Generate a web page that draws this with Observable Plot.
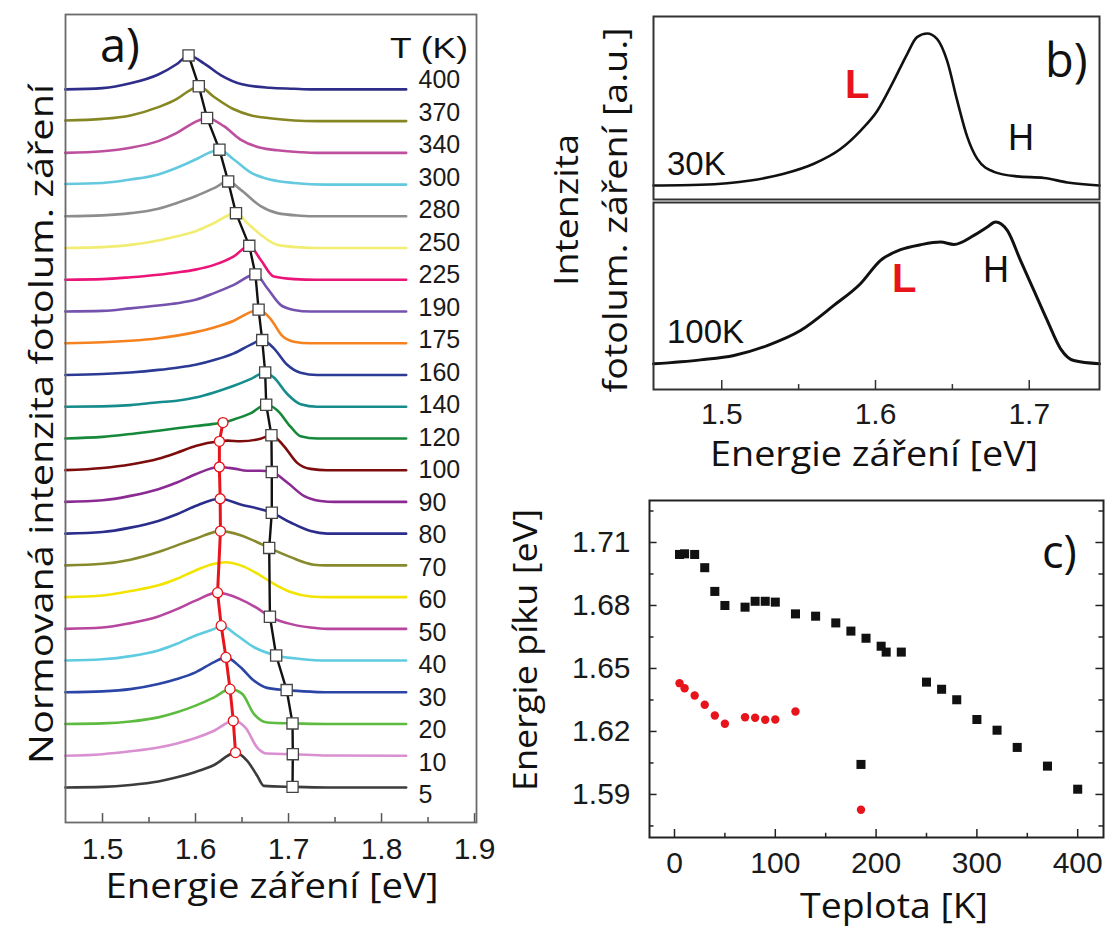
<!DOCTYPE html>
<html><head><meta charset="utf-8">
<script src="https://cdn.jsdelivr.net/npm/d3@7"></script>
<script src="https://cdn.jsdelivr.net/npm/@observablehq/plot@0.6"></script>
<style>
html,body{margin:0;padding:0;background:#fff;}
#root{position:relative;width:1108px;height:928px;overflow:hidden;background:#fff;}
</style></head><body><div id="root"></div>
<script>
// ---------- Panel a: PL spectra (energy [eV], normalised intensity) ----------
const temps = [5,10,20,30,40,50,60,70,80,90,100,120,140,160,175,190,225,250,280,300,340,370,400];
const curveColors = ["#3c3c3c","#d98fd0","#5dbb3f","#2a45a5","#5fcbe0","#b8459e","#f2e400","#878a2c","#2b2d8c","#8a2a92","#7d0c0c","#15883a","#178c8c","#2b3a94","#f5821f","#7452ad","#ec1379","#f0ed72","#8d8d8d","#62c9de","#bd4f9e","#868623","#2e2d8a"];
const s5   = [[1.46,0],[1.50,0.02],[1.53,0.08],[1.56,0.19],[1.58,0.32],[1.60,0.49],[1.62,0.71],[1.643,1.1],[1.6556,0.84],[1.6663,0.37],[1.6735,0.05],[1.7043,0.02],[1.7416,0],[1.8265,0]];
const s10  = [[1.46,0],[1.50,0.05],[1.53,0.14],[1.56,0.26],[1.58,0.39],[1.60,0.56],[1.62,0.79],[1.6406,1.1],[1.6537,0.89],[1.6663,0.26],[1.677,0.07],[1.7046,0.05],[1.7416,0.01],[1.8265,0]];
const s20  = [[1.46,0],[1.50,0.02],[1.53,0.08],[1.56,0.21],[1.58,0.37],[1.60,0.58],[1.62,0.84],[1.6371,1.1],[1.6502,0.95],[1.6627,0.32],[1.677,0.05],[1.7043,0.02],[1.7416,0],[1.8265,0]];
const s30  = [[1.46,0],[1.50,0.03],[1.53,0.1],[1.56,0.26],[1.58,0.42],[1.60,0.63],[1.62,0.95],[1.6327,1.1],[1.6484,0.79],[1.6627,0.37],[1.677,0.14],[1.698,0.07],[1.7237,0.02],[1.7416,0],[1.8265,0]];
const s40  = [[1.46,0],[1.50,0.04],[1.53,0.14],[1.56,0.32],[1.58,0.53],[1.60,0.79],[1.62,1.0],[1.6276,1.1],[1.6448,0.79],[1.663,0.42],[1.6867,0.16],[1.713,0.05],[1.7416,0],[1.8265,0]];
const s50  = [[1.46,0],[1.50,0.04],[1.53,0.18],[1.56,0.39],[1.58,0.62],[1.60,0.89],[1.6237,1.14],[1.6484,0.93],[1.6663,0.65],[1.680,0.38],[1.6986,0.18],[1.7237,0.04],[1.7416,0],[1.8265,0]];
const s60  = [[1.46,0],[1.50,0.05],[1.53,0.19],[1.56,0.37],[1.58,0.58],[1.60,0.84],[1.62,1.05],[1.6323,1.1],[1.6484,1.0],[1.6699,0.68],[1.6842,0.42],[1.7022,0.16],[1.7237,0.02],[1.7416,0],[1.8265,0]];
const s70  = [[1.46,0],[1.50,0.05],[1.53,0.18],[1.56,0.42],[1.58,0.63],[1.60,0.84],[1.6268,1.08],[1.6484,0.95],[1.6699,0.68],[1.6792,0.55],[1.7022,0.26],[1.7272,0.02],[1.74,0],[1.8265,0]];
const s80  = [[1.46,0],[1.50,0.05],[1.53,0.19],[1.56,0.4],[1.58,0.61],[1.60,0.87],[1.6265,1.1],[1.6484,0.92],[1.6699,0.77],[1.682,0.66],[1.7022,0.35],[1.7237,0.08],[1.7416,0],[1.8265,0]];
const s90  = [[1.46,0],[1.50,0.05],[1.53,0.19],[1.56,0.4],[1.58,0.61],[1.60,0.87],[1.6256,1.1],[1.6412,1.05],[1.6556,0.98],[1.6699,0.98],[1.682,0.94],[1.6986,0.61],[1.7165,0.19],[1.7344,0.03],[1.75,0],[1.8265,0]];
const s100 = [[1.46,0],[1.50,0.07],[1.53,0.18],[1.56,0.36],[1.58,0.55],[1.60,0.76],[1.6257,0.91],[1.6341,0.93],[1.6484,0.91],[1.6699,0.99],[1.6816,1.10],[1.695,0.76],[1.7093,0.23],[1.7237,0.04],[1.7416,0],[1.8265,0]];
const s120 = [[1.46,0],[1.50,0.05],[1.53,0.14],[1.56,0.24],[1.58,0.32],[1.60,0.39],[1.62,0.46],[1.6295,0.5],[1.6412,0.6],[1.659,0.79],[1.676,1.06],[1.6878,0.89],[1.7022,0.37],[1.7129,0.07],[1.7308,0],[1.8265,0]];
const s140 = [[1.46,0],[1.50,0.01],[1.53,0.05],[1.56,0.14],[1.58,0.19],[1.60,0.29],[1.62,0.45],[1.6412,0.66],[1.659,0.87],[1.6749,1.08],[1.6842,0.92],[1.6986,0.4],[1.7129,0.08],[1.7308,0],[1.8265,0]];
const s160 = [[1.46,0],[1.50,0.03],[1.53,0.08],[1.56,0.16],[1.58,0.23],[1.60,0.32],[1.62,0.47],[1.6412,0.68],[1.659,0.95],[1.6717,1.10],[1.6842,0.84],[1.6986,0.32],[1.7129,0.07],[1.7308,0],[1.8265,0]];
const s175 = [[1.46,0],[1.50,0.03],[1.53,0.08],[1.56,0.16],[1.58,0.24],[1.60,0.35],[1.62,0.5],[1.6412,0.71],[1.659,0.98],[1.6678,1.06],[1.6806,0.77],[1.693,0.24],[1.7057,0.05],[1.7237,0],[1.8265,0]];
const s190 = [[1.46,0],[1.50,0.02],[1.53,0.1],[1.56,0.19],[1.58,0.26],[1.60,0.37],[1.62,0.58],[1.6412,0.84],[1.6644,1.17],[1.677,0.74],[1.6914,0.21],[1.7057,0.05],[1.7237,0],[1.8265,0]];
const s225 = [[1.46,0],[1.50,0.02],[1.53,0.08],[1.56,0.16],[1.58,0.23],[1.60,0.32],[1.62,0.47],[1.6412,0.74],[1.6578,1.07],[1.67,0.63],[1.6842,0.1],[1.706,0.02],[1.73,0],[1.8265,0]];
const s250 = [[1.46,0],[1.50,0.03],[1.53,0.1],[1.56,0.24],[1.58,0.37],[1.60,0.53],[1.62,0.79],[1.6435,1.10],[1.6556,0.79],[1.67,0.42],[1.688,0.1],[1.713,0.02],[1.73,0],[1.8265,0]];
const s280 = [[1.46,0],[1.50,0.03],[1.53,0.1],[1.56,0.24],[1.58,0.42],[1.60,0.63],[1.62,0.89],[1.6351,1.10],[1.6484,0.84],[1.67,0.32],[1.688,0.1],[1.713,0.02],[1.73,0],[1.8265,0]];
const s300 = [[1.46,0.02],[1.50,0.05],[1.53,0.16],[1.56,0.32],[1.58,0.53],[1.60,0.79],[1.6143,1.0],[1.6257,1.10],[1.6412,0.79],[1.66,0.37],[1.68,0.16],[1.706,0.05],[1.74,0],[1.8265,0]];
const s340 = [[1.46,0],[1.50,0.05],[1.53,0.16],[1.56,0.37],[1.58,0.63],[1.5982,0.95],[1.6124,1.10],[1.6305,0.84],[1.6484,0.42],[1.67,0.16],[1.688,0.08],[1.713,0.02],[1.73,0],[1.8265,0]];
const s370 = [[1.46,0.02],[1.50,0.07],[1.53,0.18],[1.56,0.44],[1.58,0.7],[1.5928,0.95],[1.6035,1.1],[1.62,0.76],[1.64,0.39],[1.66,0.18],[1.68,0.09],[1.706,0.02],[1.73,0],[1.8265,0]];
const s400 = [[1.46,0],[1.50,0.04],[1.53,0.19],[1.56,0.47],[1.58,0.8],[1.5925,1.07],[1.609,0.82],[1.627,0.45],[1.65,0.16],[1.68,0.05],[1.706,0.02],[1.724,0],[1.8265,0]];
const spectraA = [s5,s10,s20,s30,s40,s50,s60,s70,s80,s90,s100,s120,s140,s160,s175,s190,s225,s250,s280,s300,s340,s370,s400];

// marker heights on the spectra of panel a (same peak energies as panel c)
const aHT = [5,10,20,30,40,50,70,80,90,100,120,140,160,175,190,225,250,280,300,340,370,400];
const aHh = [0.02,0.05,0.02,0.07,0.16,0.38,0.55,0.66,0.94,1.10,1.06,1.08,1.10,1.06,1.17,1.07,1.10,1.10,1.10,1.10,1.10,1.07];
const aLT = [5,10,20,30,40,50,70,80,90,100,120];
const aLh = [1.1,1.1,1.1,1.1,1.1,1.14,1.08,1.1,1.1,0.91,0.5];
const ticksA = [1.5,1.6,1.7,1.8,1.9];
const minorA = [1.55,1.65,1.75,1.85];

// ---------- Panel b: spectra at 30 K and 100 K ----------
const b30  = [[1.4556,0],[1.4863,0.005],[1.5187,0.033],[1.5404,0.077],[1.5599,0.143],[1.5772,0.24],[1.5902,0.36],[1.6011,0.49],[1.6119,0.69],[1.6206,0.865],[1.627,0.976],[1.6336,1.0],[1.64,0.965],[1.6466,0.82],[1.6531,0.56],[1.6597,0.32],[1.6662,0.175],[1.677,0.09],[1.6922,0.06],[1.7096,0.05],[1.7248,0.02],[1.7457,0]];
const b100 = [[1.4556,0],[1.4863,0.028],[1.5079,0.059],[1.5296,0.129],[1.5512,0.235],[1.5729,0.412],[1.5902,0.565],[1.6033,0.73],[1.6163,0.805],[1.6293,0.84],[1.6423,0.859],[1.651,0.842],[1.664,0.906],[1.6727,0.965],[1.6781,1.0],[1.6857,0.941],[1.6943,0.73],[1.703,0.518],[1.7117,0.306],[1.7204,0.106],[1.729,0.023],[1.7457,0]];
const ticksB = [1.5,1.6,1.7];
const minorB = [1.55,1.65];

// ---------- Panel c: peak energy vs temperature ----------
const cHT = [5,10,20,30,40,50,70,80,90,100,120,140,160,175,190,205,210,225,250,265,280,300,320,340,370,400,185];
const cHE = [1.7043,1.7046,1.7043,1.698,1.6867,1.680,1.6792,1.682,1.682,1.6816,1.676,1.6749,1.6717,1.6678,1.6644,1.6606,1.6578,1.6578,1.6435,1.6401,1.6351,1.6257,1.6206,1.6124,1.6035,1.5925,1.6043];
const cLT = [5,10,20,30,40,50,70,80,90,100,120,185];
const cLE = [1.643,1.6406,1.6371,1.6327,1.6276,1.6237,1.6268,1.6265,1.6256,1.6257,1.6295,1.5827];
const ticksCx = [0,100,200,300,400];
const minorCx = [50,150,250,350];
const ticksCy = [1.59,1.62,1.65,1.68,1.71];
const minorCy = [1.575,1.605,1.635,1.665,1.695,1.725];

const RED = "#e8141c";
const TICKFONT = "'Liberation Sans', Arial, sans-serif";
const TITLEFONT = "'Open Sans', 'Noto Sans', sans-serif";
const root = document.getElementById("root");
function place(el, left, top) {
  el.style.position = "absolute"; el.style.left = left + "px"; el.style.top = top + "px";
  root.appendChild(el);
}
const baseStyle = {background: "transparent", overflow: "visible", fontFamily: TICKFONT, fontSize: "30px", color: "#1a1a1a"};

// ===== Panel a =====
const rowsA = spectraA.flatMap((s, i) => s.map(([E, h]) => ({T: temps[i], E, y: i + h, color: curveColors[i]})));
const idx = T => temps.indexOf(T);
const hMarkers = aHT.map((T, k) => ({T, E: cHE[cHT.indexOf(T)], y: idx(T) + aHh[k]}));
const lMarkers = aLT.map((T, k) => ({T, E: cLE[cLT.indexOf(T)], y: idx(T) + aLh[k]}));
const yA0 = -1.103, yA1 = 24.36;
const labelsA = temps.map((T, i) => ({T, y: -0.252 + 1.0243 * i}));

const plotA = Plot.plot({
  width: 500, height: 870,
  marginLeft: 65, marginRight: 24, marginTop: 14, marginBottom: 48,
  style: baseStyle,
  x: {domain: [1.4602, 1.9021], ticks: ticksA, tickSize: 0, tickPadding: 15, tickFormat: d3.format(".1f"), label: null},
  y: {domain: [yA0, yA1], axis: null},
  marks: [
    Plot.line(rowsA, {x: "E", y: "y", z: "T", stroke: "color", strokeWidth: 2.6, curve: "monotone-x"}),
    Plot.line(lMarkers, {x: "E", y: "y", stroke: RED, strokeWidth: 3}),
    Plot.line(hMarkers, {x: "E", y: "y", stroke: "#111", strokeWidth: 2.4}),
    Plot.dot(lMarkers, {x: "E", y: "y", r: 5, fill: "white", stroke: RED, strokeWidth: 1.3}),
    Plot.dot(hMarkers, {x: "E", y: "y", r: 6.3, symbol: "square", fill: "white", stroke: "#444", strokeWidth: 1.3}),
    Plot.text(labelsA, {x: () => 1.8398, y: "y", text: d => String(d.T), textAnchor: "start", fontSize: 25, fill: "#1a1a1a"}),
    Plot.ruleX(ticksA, {x: d => d, y1: () => yA0, y2: () => yA0 + 0.28, stroke: "#555", strokeWidth: 1.5}),
    Plot.ruleX(minorA, {x: d => d, y1: () => yA0, y2: () => yA0 + 0.16, stroke: "#555", strokeWidth: 1.5}),
    Plot.frame({stroke: "#6a6a6a", strokeWidth: 1.8})
  ]
});
place(plotA, 0, 0);

// ===== Panel b (upper: 30 K) =====
const plotB1 = Plot.plot({
  width: 508, height: 201,
  marginLeft: 53, marginRight: 9, marginTop: 16, marginBottom: 2,
  style: baseStyle,
  x: {domain: [1.4556, 1.7457], axis: null},
  y: {domain: [-0.092, 1.112], axis: null},
  marks: [
    Plot.line(b30, {x: d => d[0], y: d => d[1], stroke: "#111", strokeWidth: 2.6, curve: "monotone-x"}),
    Plot.frame({stroke: "#333", strokeWidth: 2})
  ]
});
place(plotB1, 600, 0);

// ===== Panel b (lower: 100 K) =====
const yB0 = -0.181;
const plotB2 = Plot.plot({
  width: 508, height: 240,
  marginLeft: 53, marginRight: 9, marginTop: 2, marginBottom: 51,
  style: baseStyle,
  x: {domain: [1.4556, 1.7457], ticks: ticksB, tickSize: 0, tickPadding: 13, tickFormat: d3.format(".1f"), label: null},
  y: {domain: [yB0, 1.138], axis: null},
  marks: [
    Plot.line(b100, {x: d => d[0], y: d => d[1], stroke: "#111", strokeWidth: 3, curve: "monotone-x"}),
    Plot.ruleX(ticksB, {x: d => d, y1: () => yB0, y2: () => yB0 + 0.064, stroke: "#333", strokeWidth: 1.5}),
    Plot.ruleX(minorB, {x: d => d, y1: () => yB0, y2: () => yB0 + 0.035, stroke: "#333", strokeWidth: 1.5}),
    Plot.frame({stroke: "#333", strokeWidth: 2})
  ]
});
place(plotB2, 600, 200);

// ===== Panel c =====
const xC0 = -24.8, xC1 = 425.6, yC0 = 1.5695, yC1 = 1.73;
const hC = cHT.map((T, k) => ({T, E: cHE[k]}));
const lC = cLT.map((T, k) => ({T, E: cLE[k]}));
const plotC = Plot.plot({
  width: 508, height: 400,
  marginLeft: 49, marginRight: 5, marginTop: 20, marginBottom: 43,
  style: baseStyle,
  x: {domain: [xC0, xC1], ticks: ticksCx, tickSize: 0, tickPadding: 14, tickFormat: d3.format("d"), label: null},
  y: {domain: [yC0, yC1], ticks: ticksCy, tickSize: 0, tickPadding: 19, tickFormat: d3.format(".2f"), label: null},
  marks: [
    Plot.ruleX(ticksCx, {x: d => d, y1: () => yC0, y2: () => yC0 + 0.0038, stroke: "#222", strokeWidth: 1.5}),
    Plot.ruleX(minorCx, {x: d => d, y1: () => yC0, y2: () => yC0 + 0.002, stroke: "#222", strokeWidth: 1.5}),
    Plot.ruleY(ticksCy, {y: d => d, x1: () => xC0, x2: () => xC0 + 7.5, stroke: "#222", strokeWidth: 1.5}),
    Plot.ruleY(minorCy, {y: d => d, x1: () => xC0, x2: () => xC0 + 4.5, stroke: "#222", strokeWidth: 1.5}),
    Plot.ruleY(ticksCy, {y: d => d, x1: () => xC1 - 7.5, x2: () => xC1, stroke: "#222", strokeWidth: 1.5}),
    Plot.ruleY(minorCy, {y: d => d, x1: () => xC1 - 4.5, x2: () => xC1, stroke: "#222", strokeWidth: 1.5}),
    Plot.dot(hC, {x: "T", y: "E", symbol: "square", r: 5.1, fill: "#111"}),
    Plot.dot(lC, {x: "T", y: "E", r: 4.2, fill: RED}),
    Plot.frame({stroke: "#222", strokeWidth: 2})
  ]
});
place(plotC, 600, 480);

// ===== Overlay: titles, panel letters, annotations =====
const ov = d3.create("svg").attr("width", 1108).attr("height", 928)
  .style("position", "absolute").style("left", "0px").style("top", "0px").style("pointer-events", "none");
function txt(x, y, s, o = {}) {
  const t = ov.append("text").attr("x", 0).attr("y", 0)
    .attr("transform", `translate(${x},${y})` + (o.rotate ? ` rotate(${o.rotate})` : ""))
    .attr("font-family", o.family || TITLEFONT).attr("font-size", o.size || 34)
    .attr("font-weight", o.weight || "normal").attr("fill", o.fill || "#111")
    .attr("text-anchor", o.anchor || "start").text(s);
  if (o.length) t.attr("textLength", o.length).attr("lengthAdjust", "spacingAndGlyphs");
  return t;
}
// panel a
txt(100, 62, "a)", {size: 47});
txt(390, 58, "T (K)", {family: TICKFONT, size: 30, length: 78});
txt(272, 898, "Energie záření [eV]", {size: 34, anchor: "middle", length: 333});
txt(53, 424, "Normovaná intenzita fotolum. záření", {size: 33, anchor: "middle", rotate: -90, length: 680});
// panel b
txt(1045, 77, "b)", {size: 47});
txt(667, 175, "30K", {family: TICKFONT, size: 33});
txt(845, 98, "L", {family: TICKFONT, size: 40, weight: "bold", fill: RED});
txt(1008, 150, "H", {family: TICKFONT, size: 36});
txt(667, 343, "100K", {family: TICKFONT, size: 33});
txt(892, 292, "L", {family: TICKFONT, size: 40, weight: "bold", fill: RED});
txt(983, 282, "H", {family: TICKFONT, size: 36});
txt(578, 210, "Intenzita", {size: 33, anchor: "middle", rotate: -90, length: 152});
txt(627, 210, "fotolum. záření [a.u.]", {size: 33, anchor: "middle", rotate: -90, length: 365});
txt(874, 466, "Energie záření [eV]", {size: 34, anchor: "middle", length: 328});
// panel c
txt(1042, 568, "c)", {size: 45});
txt(537, 650, "Energie píku [eV]", {size: 33, anchor: "middle", rotate: -90, length: 282});
txt(894, 918, "Teplota [K]", {size: 34, anchor: "middle", length: 188});
root.appendChild(ov.node());
</script></body></html>
